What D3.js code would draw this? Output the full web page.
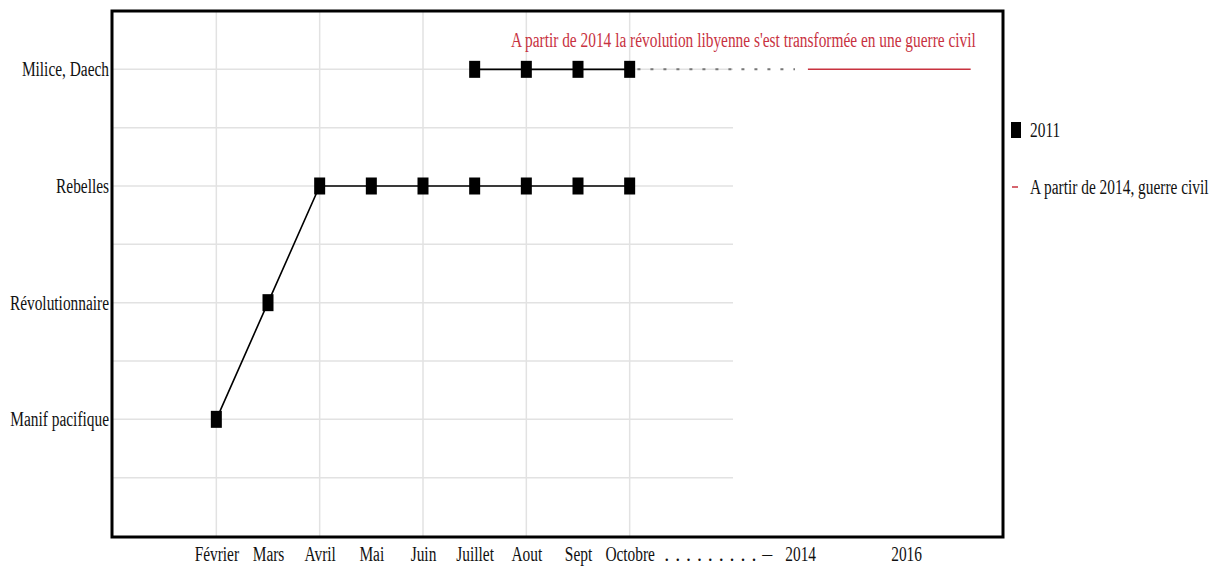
<!DOCTYPE html>
<html>
<head>
<meta charset="utf-8">
<script src="https://cdn.jsdelivr.net/npm/d3@7"></script>
<style>
  html, body { margin: 0; padding: 0; background: #fff; }
  svg { display: block; }
  text { font-family: "Liberation Serif", "Times New Roman", serif; font-size: 20px; fill: #111; }
</style>
</head>
<body>
<svg id="chart" width="1220" height="574"></svg>
<script>
// ---- data ----
const months = ["Février", "Mars", "Avril", "Mai", "Juin", "Juillet", "Aout", "Sept", "Octobre"];
const monthIndex = [2, 3, 4, 5, 6, 7, 8, 9, 10];
const stages = ["Manif pacifique", "Révolutionnaire", "Rebelles", "Milice, Daech"];
const stageLevel = [2, 4, 6, 8];
// 2011 series: stage reached each month
const stage2011 = ["Manif pacifique", "Révolutionnaire", "Rebelles", "Rebelles", "Rebelles", "Rebelles", "Rebelles", "Rebelles", "Rebelles"];
const milice2011Months = ["Juillet", "Aout", "Sept", "Octobre"];
const yearLabels = ["2014", "2016"];
const yearIndex = [13.3, 15.35];
const transitionSpan = [10.15, 13.2];     // dotted link Octobre -> 2014
const guerreCivilSpan = [13.45, 16.6];   // "A partir de 2014, guerre civil"
const title = "A partir de 2014 la révolution libyenne s'est transformée en une guerre civil";
const legendLabels = ["2011", "A partir de 2014, guerre civil"];

// ---- setup ----
const SX = 0.77; // horizontal compression of the text
const red = "#c8323f";
const svg = d3.select("#chart");
const x = d3.scaleLinear().domain([0, 12]).range([113, 733]);
const y = d3.scaleLinear().domain([0, 9]).range([536, 11]);
const levelOf = Object.fromEntries(stages.map((s, i) => [s, stageLevel[i]]));
const idxOf = Object.fromEntries(months.map((m, i) => [m, monthIndex[i]]));

// gridlines
const grid = svg.append("g").attr("stroke", "#e2e2e2").attr("stroke-width", 1.5);
grid.selectAll("line.h").data(d3.range(1, 9)).join("line")
  .attr("x1", x(0)).attr("x2", x(12))
  .attr("y1", d => y(d)).attr("y2", d => y(d));
grid.selectAll("line.v").data([2, 4, 6, 8, 10]).join("line")
  .attr("x1", d => x(d)).attr("x2", d => x(d))
  .attr("y1", y(9)).attr("y2", y(0));

// axes (labels only)
const yAxis = svg.append("g").attr("transform", `translate(${x(0)},0)`)
  .call(d3.axisLeft(y).tickValues(stageLevel).tickFormat((d, i) => stages[i]).tickSize(0));
yAxis.select(".domain").remove();
yAxis.selectAll("text").attr("x", -4 / SX).attr("dy", "0.32em")
  .attr("transform", `scale(${SX},1)`).style("font-size", "20px").style("font-family", "Liberation Serif").attr("fill", "#111");

const xAxis = svg.append("g").attr("transform", `translate(0,${y(0)})`)
  .call(d3.axisBottom(x).tickValues(monthIndex.concat(yearIndex))
    .tickFormat((d, i) => i < months.length ? months[i] : yearLabels[i - months.length]).tickSize(0));
xAxis.select(".domain").remove();
xAxis.selectAll("text").attr("y", 11).attr("dy", "0.71em").attr("x", 0)
  .attr("transform", `scale(${SX},1)`).style("font-size", "20px").style("font-family", "Liberation Serif").attr("fill", "#111");
// dotted text between Octobre and 2014
svg.append("text")
  .attr("transform", `translate(${x(10.67)},${y(0) + 11})`)
  .attr("dy", "0.71em")
  .attr("textLength", 108).attr("lengthAdjust", "spacing")
  .text(". . . . . . . . . –");

// frame
svg.append("rect").attr("x", x(0) - 1).attr("y", y(9)).attr("width", 891).attr("height", y(0) - y(9) + 1)
  .attr("fill", "none").attr("stroke", "#000").attr("stroke-width", 3);

// title
svg.append("text").attr("transform", `translate(${x(16.7)},${y(8) - 22}) scale(${SX},1)`)
  .attr("text-anchor", "end").attr("fill", red).style("fill", red).text(title);

// dotted transition line
svg.append("line")
  .attr("x1", x(transitionSpan[0])).attr("x2", x(transitionSpan[1]))
  .attr("y1", y(8)).attr("y2", y(8))
  .attr("stroke", "#777").attr("stroke-width", 2).attr("stroke-dasharray", "3,10");

// guerre civil line
svg.append("line")
  .attr("x1", x(guerreCivilSpan[0])).attr("x2", x(guerreCivilSpan[1]))
  .attr("y1", y(8)).attr("y2", y(8))
  .attr("stroke", red).attr("stroke-width", 1.5);

// 2011 series
const s1 = months.map((m, i) => ({ x: monthIndex[i], y: levelOf[stage2011[i]] }));
const s2 = milice2011Months.map(m => ({ x: idxOf[m], y: levelOf["Milice, Daech"] }));
const line = d3.line().x(d => x(d.x)).y(d => y(d.y));
[s1, s2].forEach(s => {
  svg.append("path").attr("d", line(s)).attr("fill", "none").attr("stroke", "#000").attr("stroke-width", 1.6);
  svg.append("g").selectAll("rect").data(s).join("rect")
    .attr("x", d => x(d.x) - 5.5).attr("y", d => y(d.y) - 8.5)
    .attr("width", 11).attr("height", 17).attr("fill", "#000");
});

// legend
const lg = svg.append("g");
lg.append("rect").attr("x", 1011).attr("y", 122).attr("width", 10).attr("height", 16).attr("fill", "#000");
lg.append("text").attr("transform", `translate(1030,130) scale(${SX},1)`).attr("dy", "0.35em").text(legendLabels[0]);
lg.append("line").attr("x1", 1012).attr("x2", 1018).attr("y1", 187).attr("y2", 187).attr("stroke", red).attr("stroke-width", 1.5);
lg.append("text").attr("transform", `translate(1030,187) scale(${SX},1)`).attr("dy", "0.35em").text(legendLabels[1]);
</script>
</body>
</html>
